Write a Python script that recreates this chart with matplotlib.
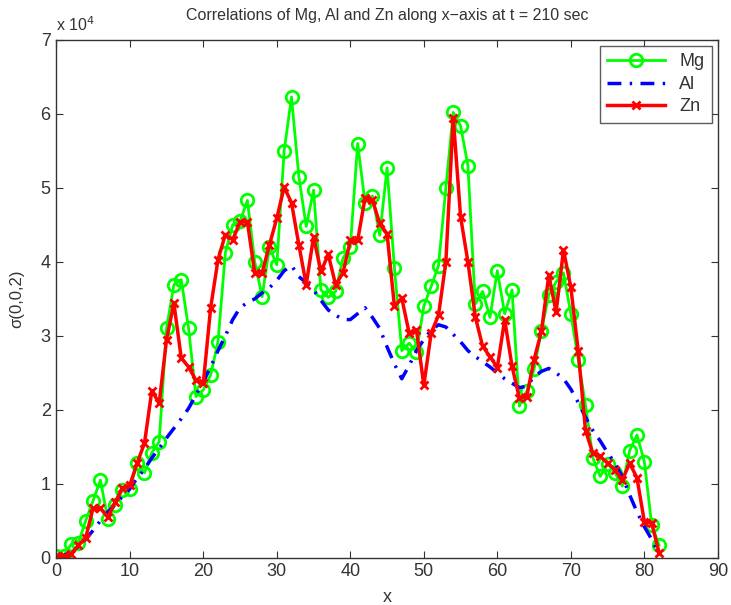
import matplotlib
matplotlib.use("Agg")
import matplotlib.pyplot as plt
import numpy as np

plt.rcParams['font.family'] = ['Liberation Sans', 'DejaVu Sans']

x = list(range(0, 83))

# values in units of 10^4
mg = [0.02, 0.03, 0.18, 0.20, 0.50, 0.77, 1.05, 0.53, 0.72, 0.92,
      0.93, 1.28, 1.15, 1.42, 1.57, 3.10, 3.69, 3.76, 3.10, 2.18,
      2.27, 2.47, 2.92, 4.12, 4.50, 4.55, 4.83, 4.00, 3.53, 4.20,
      3.96, 5.50, 6.23, 5.15, 4.48, 4.97, 3.62, 3.52, 3.60, 4.05,
      4.20, 5.60, 4.80, 4.89, 4.36, 5.27, 3.92, 2.80, 2.90, 2.78,
      3.40, 3.67, 3.95, 5.00, 6.02, 5.84, 5.30, 3.43, 3.60, 3.25,
      3.88, 3.30, 3.62, 2.05, 2.25, 2.55, 3.07, 3.55, 3.73, 3.85,
      3.30, 2.68, 2.06, 1.35, 1.10, 1.27, 1.15, 0.97, 1.45, 1.66,
      1.30, 0.45, 0.17]

al = [0.00, 0.03, 0.08, 0.15, 0.25, 0.37, 0.50, 0.62, 0.72, 0.83,
      0.93, 1.08, 1.20, 1.35, 1.48, 1.62, 1.75, 1.88, 2.02, 2.20,
      2.38, 2.58, 2.80, 3.00, 3.22, 3.38, 3.45, 3.50, 3.58, 3.65,
      3.75, 3.88, 3.95, 3.80, 3.72, 3.62, 3.48, 3.35, 3.28, 3.22,
      3.22, 3.30, 3.38, 3.25, 3.10, 2.85, 2.62, 2.42, 2.60, 2.80,
      2.95, 3.08, 3.15, 3.12, 3.02, 2.92, 2.80, 2.72, 2.65, 2.58,
      2.50, 2.42, 2.36, 2.30, 2.32, 2.45, 2.52, 2.56, 2.50, 2.42,
      2.28, 2.10, 1.90, 1.72, 1.58, 1.42, 1.28, 1.10, 0.85, 0.62,
      0.42, 0.25, 0.05]

zn = [0.02, 0.02, 0.05, 0.17, 0.27, 0.67, 0.67, 0.55, 0.75, 0.94,
      0.98, 1.28, 1.55, 2.26, 2.09, 2.95, 3.44, 2.70, 2.58, 2.40,
      2.36, 3.38, 4.03, 4.37, 4.30, 4.54, 4.54, 3.85, 3.85, 4.23,
      4.59, 5.01, 4.80, 4.23, 3.69, 4.34, 3.87, 4.10, 3.69, 3.85,
      4.29, 4.29, 4.86, 4.84, 4.52, 4.38, 3.40, 3.51, 3.04, 3.08,
      2.33, 3.04, 3.28, 4.00, 5.95, 4.61, 4.00, 3.26, 2.86, 2.72,
      2.57, 3.22, 2.59, 2.16, 2.18, 2.68, 3.06, 3.82, 3.32, 4.16,
      3.66, 2.80, 1.72, 1.41, 1.37, 1.28, 1.19, 1.05, 1.28, 1.08,
      0.49, 0.47, 0.07]

title = "Correlations of Mg, Al and Zn along x\u2212axis at t = 210 sec"
xticks = [0, 10, 20, 30, 40, 50, 60, 70, 80, 90]
yticks = [0, 1, 2, 3, 4, 5, 6, 7]

fig = plt.figure(figsize=(7.31, 6.05), dpi=100)
ax = fig.add_axes([0.077, 0.078, 0.905, 0.856])

ax.plot(x, mg, '-o', color=(0, 1, 0), lw=2, ms=9, mfc='none', mew=2, label='Mg')
ax.plot(x, al, '-.', color=(0, 0, 1), lw=2.5, dashes=(4, 2.4, 0.7, 2.4), label='Al')
ax.plot(x, zn, '-x', color=(1, 0, 0), lw=2.5, ms=6, mew=2, label='Zn')

ax.set_xlim(0, 90)
ax.set_ylim(0, 7)
ax.set_xticks(xticks)
ax.set_yticks(yticks)
ax.tick_params(direction='in', top=True, right=True, length=5, labelsize=13,
               colors='#333333', pad=4)
for s in ax.spines.values():
    s.set_color('#333333')
    s.set_linewidth(1.0)

ax.set_title(title, fontsize=11.5, color='#333333', pad=14)
ax.set_xlabel('x', fontsize=13, color='#333333', labelpad=6)
ax.set_ylabel('\u03c3(0,0,2)', fontsize=12, color='#333333', labelpad=12)
ax.text(0.0, 1.012, 'x 10$^4$', transform=ax.transAxes, fontsize=11.5,
        color='#333333', ha='left', va='bottom')

leg = ax.legend(loc='upper right', fontsize=13, frameon=True, fancybox=False,
                edgecolor='#333333', handlelength=3.2, borderaxespad=0.35,
                labelspacing=0.3)
leg.get_frame().set_linewidth(1.0)
for t in leg.get_texts():
    t.set_color('#333333')

fig.savefig('out.png', dpi=100)
